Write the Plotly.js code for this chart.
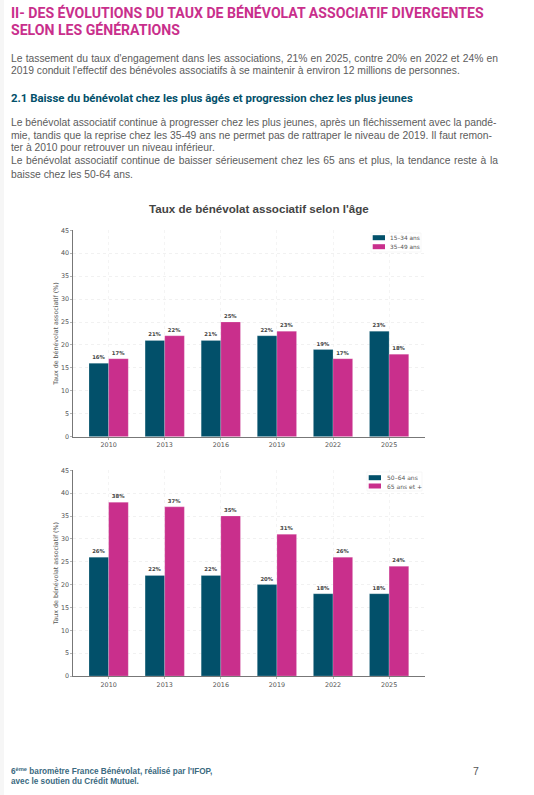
<!DOCTYPE html>
<html><head><meta charset="utf-8">
<script src="https://cdn.plot.ly/plotly-3.0.1.min.js"></script>
<style>html,body{margin:0;padding:0;background:#fff}#c{width:534px;height:795px}</style>
</head><body><div id="c"></div>
<script>
const years = ['2010','2013','2016','2019','2022','2025'];
const young = [16,21,21,22,19,23];
const mid = [17,22,25,23,17,18];
const senior = [26,22,22,20,18,18];
const old = [38,37,35,31,26,24];
const names = ['15–34 ans','35–49 ans','50–64 ans','65 ans et +'];
const yTicks = [0,5,10,15,20,25,30,35,40,45];
const TEAL = '#02506a', PINK = '#c92f8c';
const W = 534, H = 795;
const px = v => v / W, py = v => 1 - v / H;

const headingLines = ['II- DES ÉVOLUTIONS DU TAUX DE BÉNÉVOLAT ASSOCIATIF DIVERGENTES','SELON LES GÉNÉRATIONS'];
const introLines = ["Le tassement du taux d'engagement dans les associations, 21% en 2025, contre 20% en 2022 et 24% en","2019 conduit l'effectif des bénévoles associatifs à se maintenir à environ 12 millions de personnes."];
const subheading = '2.1 Baisse du bénévolat chez les plus âgés et progression chez les plus jeunes';
const paraLines = ['Le bénévolat associatif continue à progresser chez les plus jeunes, après un fléchissement avec la pandé-','mie, tandis que la reprise chez les 35-49 ans ne permet pas de rattraper le niveau de 2019. Il faut remon-','ter à 2010 pour retrouver un niveau inférieur.','Le bénévolat associatif continue de baisser sérieusement chez les 65 ans et plus, la tendance reste à la','baisse chez les 50-64 ans.'];
const chartTitle = "Taux de bénévolat associatif selon l'âge";
const yTitle = 'Taux de bénévolat associatif (%)';
const footLines = ['6<sup>ème</sup> baromètre France Bénévolat, réalisé par l\'IFOP,','avec le soutien du Crédit Mutuel.'];
const pageNo = '7';

function bar(x, y, name, color, xa, ya){
  return {type:'bar', x, y, name, xaxis:xa, yaxis:ya,
    marker:{color, line:{color:'rgba(255,255,255,0.5)',width:0.4}},
    text:y.map(v=>v+'%'), textposition:'outside', cliponaxis:false,
    textangle:0, constraintext:'none',
    textfont:{family:'DejaVu Sans',size:5.3,color:'#444',weight:700}};
}
const data = [
  bar(years,young,names[0],TEAL,'x','y'),
  bar(years,mid,names[1],PINK,'x','y'),
  bar(years,senior,names[2],TEAL,'x2','y2'),
  bar(years,old,names[3],PINK,'x2','y2')
];
function xAxis(anchor){return {domain:[px(73.3),px(425)],anchor,type:'category',range:[-0.63,5.64],
  tickfont:{family:'DejaVu Sans',size:6.4,color:'#555'},ticks:'outside',ticklen:2,tickwidth:0.5,tickcolor:'#666',
  showline:true,linecolor:'#777',linewidth:1,showgrid:true,gridcolor:'#f0f0f0',gridwidth:0.7,griddash:'dot',fixedrange:true};}
function yAxis(anchor,top,bottom){return {domain:[py(bottom),py(top)],anchor,range:[0,45],tickvals:yTicks,
  tickfont:{family:'DejaVu Sans',size:6.4,color:'#555'},ticks:'outside',ticklen:2,tickwidth:0.5,tickcolor:'#666',
  showline:true,linecolor:'#777',linewidth:1,showgrid:true,gridcolor:'#ebebeb',gridwidth:0.7,griddash:'dot',zeroline:false,
  title:{text:yTitle,font:{family:'DejaVu Sans',size:6.3,color:'#555'},standoff:1},fixedrange:true};}
const ann = [];
function t(text,x,y,size,color,family,bold,anchor){
  ann.push({text:bold?'<b>'+text+'</b>':text,xref:'paper',yref:'paper',x:px(x),y:py(y),xanchor:anchor||'left',yanchor:'middle',showarrow:false,
    font:{family,size,color},align:'left',borderpad:0});
}
const heads=[13,30], intro=[59,71], paras=[123,135.5,147.7,160.3,175], foots=[771,781];
headingLines.forEach((s,i)=>t(s,10,heads[i],14.1,'#c92f8c','Roboto',true));
introLines.forEach((s,i)=>t(s,10,intro[i],10.3,'#5c5c5c','Liberation Sans'));
t(subheading,10,98,11.4,'#02506a','Roboto',true);
paraLines.forEach((s,i)=>t(s,10,paras[i],10.3,'#5c5c5c','Liberation Sans'));
t(chartTitle,259,209,11.6,'#444','Liberation Sans',true,'center');
footLines.forEach((s,i)=>t(s,10,foots[i],8.2,'#3b6a80','Liberation Sans',true));
t(pageNo,472,771,10.5,'#555','Liberation Sans');

const rect=(x0,x1,y0,y1,fill,line)=>({type:'rect',xref:'paper',yref:'paper',x0:px(x0),x1:px(x1),y0:py(y1),y1:py(y0),fillcolor:fill,line:line||{width:0}});
const frame={color:'#eeeeee',width:0.5};
const shapes=[
  {...rect(0,4,0,795,'#f6f6f6'),layer:'below'},
  rect(371,421,233,252,'rgba(255,255,255,0.9)',frame),
  rect(372.7,385,235.2,240.2,TEAL), rect(372.7,385,244.2,249.2,PINK),
  rect(367,422,472,491,'rgba(255,255,255,0.9)',frame),
  rect(368.7,381,475.2,480.2,TEAL), rect(368.7,381,483.5,488.5,PINK)
];
t(names[0],389.3,237.7,5.8,'#555','DejaVu Sans');
t(names[1],389.3,246.7,5.8,'#555','DejaVu Sans');
t(names[2],385.7,477.7,6,'#555','DejaVu Sans');
t(names[3],385.7,486,6,'#555','DejaVu Sans');

const layout = {width:W,height:H,margin:{l:0,r:0,t:0,b:0},paper_bgcolor:'#fff',plot_bgcolor:'#fff',
  barmode:'group',bargap:0.3,bargroupgap:0,showlegend:false,
  xaxis:xAxis('y'),yaxis:yAxis('x',230.3,436.7),xaxis2:xAxis('y2'),yaxis2:yAxis('x2',470.3,676),
  annotations:ann,shapes};
const justified = [[introLines[0],497],[paraLines[0],495.5],[paraLines[1],491],[paraLines[3],497]];
Plotly.newPlot('c',data,layout,{displayModeBar:false,staticPlot:true}).then(()=>{
  document.querySelectorAll('.annotation-text').forEach(el=>{
    const j=justified.find(p=>p[0]===el.textContent);
    if(j){const n=j[0].split(' ').length-1;el.style.wordSpacing=((j[1]-10-el.getComputedTextLength())/n)+'px';}
  });
});
</script></body></html>
